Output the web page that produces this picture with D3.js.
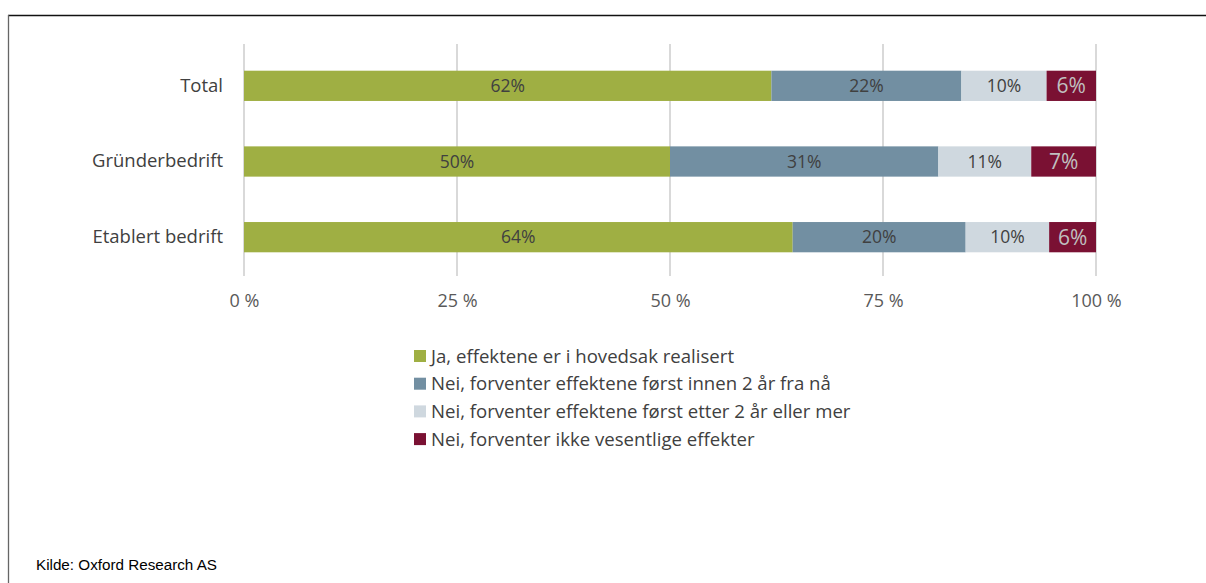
<!DOCTYPE html>
<html><head><meta charset="utf-8">
<script src="https://cdn.jsdelivr.net/npm/d3@7"></script>
<style>
html,body{margin:0;padding:0;background:#fff;}
svg{display:block;}
</style></head>
<body>
<svg id="chart" width="1206" height="583"></svg>
<script>
const categories = ["Total", "Gründerbedrift", "Etablert bedrift"];
const seriesNames = [
  "Ja, effektene er i hovedsak realisert",
  "Nei, forventer effektene først innen 2 år fra nå",
  "Nei, forventer effektene først etter 2 år eller mer",
  "Nei, forventer ikke vesentlige effekter"
];
const seriesColors = ["#9FAF43", "#728FA2", "#CFD8DF", "#7A1133"];
const labelColors = ["#404040", "#404040", "#404040", "#C0C0C0"];
// values in percent, per series, aligned with categories
const sJa = [61.9, 50.0, 64.4];
const sInnen2 = [22.3, 31.5, 20.3];
const sEtter2 = [10.0, 10.9, 9.8];
const sIkke = [5.8, 7.6, 5.5];
const labels = [
  ["62%", "50%", "64%"],
  ["22%", "31%", "20%"],
  ["10%", "11%", "10%"],
  ["6%", "7%", "6%"]
];
const tickValues = [0, 25, 50, 75, 100];
const tickLabels = ["0 %", "25 %", "50 %", "75 %", "100 %"];

const series = [sJa, sInnen2, sEtter2, sIkke];
const svg = d3.select("#chart");
const font = "'Open Sans', Lato, sans-serif";

// frame
svg.append("line").attr("x1", 8).attr("x2", 1206).attr("y1", 15.5).attr("y2", 15.5)
  .attr("stroke", "#111").attr("stroke-width", 1.5);
svg.append("line").attr("x1", 8.5).attr("x2", 8.5).attr("y1", 15).attr("y2", 583)
  .attr("stroke", "#666").attr("stroke-width", 1.3);

const x = d3.scaleLinear().domain([0, 100]).range([244, 1096]);
const y = d3.scaleBand().domain(categories).range([48, 275]).paddingInner(0.6).paddingOuter(0.3);

// gridlines
svg.append("g").selectAll("line").data(tickValues).join("line")
  .attr("x1", d => x(d)).attr("x2", d => x(d))
  .attr("y1", 44).attr("y2", 276)
  .attr("stroke", "#D9D9D9").attr("stroke-width", 2);

// stacked data
const rows = categories.map((c, i) => {
  const o = {cat: c};
  series.forEach((s, j) => o["s" + j] = s[i]);
  return o;
});
const keys = series.map((s, j) => "s" + j);
const stacked = d3.stack().keys(keys)(rows);

const gBars = svg.append("g");
stacked.forEach((layer, j) => {
  gBars.selectAll(".b" + j).data(layer).join("rect")
    .attr("x", d => x(d[0]))
    .attr("width", d => x(d[1]) - x(d[0]))
    .attr("y", d => y(d.data.cat))
    .attr("height", y.bandwidth())
    .attr("fill", seriesColors[j]);
  gBars.selectAll(".t" + j).data(layer).join("text")
    .attr("x", d => (x(d[0]) + x(d[1])) / 2)
    .attr("y", d => y(d.data.cat) + y.bandwidth() / 2)
    .attr("dy", "0.36em")
    .attr("text-anchor", "middle")
    .attr("font-family", font)
    .attr("font-size", j === 3 ? 21 : 17.5)
    .attr("fill", labelColors[j])
    .text((d, i) => labels[j][i]);
});

// category labels
const yAxis = d3.axisLeft(y).tickSize(0).tickPadding(21);
const gy = svg.append("g").attr("transform", "translate(244,0)").call(yAxis);
gy.select(".domain").remove();
gy.selectAll("text").attr("font-family", font).attr("font-size", 18.5).attr("fill", "#404040");

// x axis labels
const xAxis = d3.axisBottom(x).tickValues(tickValues).tickFormat((d, i) => tickLabels[i]).tickSize(0).tickPadding(0);
const gx = svg.append("g").attr("transform", "translate(0,294)").call(xAxis);
gx.select(".domain").remove();
gx.selectAll("text").attr("font-family", font).attr("font-size", 18).attr("fill", "#595959");

// legend
const lg = svg.append("g");
seriesNames.forEach((n, j) => {
  const yy = 356 + j * 27.7;
  lg.append("rect").attr("x", 414).attr("y", yy - 6).attr("width", 12).attr("height", 12).attr("fill", seriesColors[j]);
  lg.append("text").attr("x", 431).attr("y", yy).attr("dy", "0.36em")
    .attr("font-family", font).attr("font-size", 18.6).attr("fill", "#404040").text(n);
});

// source
svg.append("text").attr("x", 36).attr("y", 570)
  .attr("font-family", "'Liberation Sans', Arial, sans-serif").attr("font-size", 14)
  .attr("fill", "#000").attr("textLength", 181).attr("lengthAdjust", "spacingAndGlyphs")
  .text("Kilde: Oxford Research AS");
</script>
</body></html>
